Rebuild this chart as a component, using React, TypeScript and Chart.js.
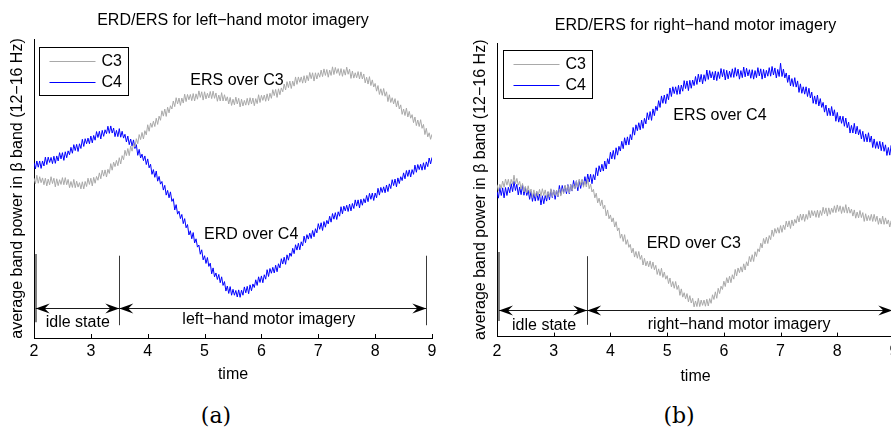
import React, { useEffect, useRef } from "react";
import { Chart, registerables } from "chart.js";

Chart.register(...registerables);

// ---------- data ----------
const TIMES = [
  2, 2.025, 2.05, 2.075, 2.1, 2.125, 2.15, 2.175, 2.2, 2.225, 2.25, 2.275, 2.3, 2.325, 2.35, 2.375, 2.4, 2.425, 2.45, 2.475,
  2.5, 2.525, 2.55, 2.575, 2.6, 2.625, 2.65, 2.675, 2.7, 2.725, 2.75, 2.775, 2.8, 2.825, 2.85, 2.875, 2.9, 2.925, 2.95, 2.975,
  3, 3.025, 3.05, 3.075, 3.1, 3.125, 3.15, 3.175, 3.2, 3.225, 3.25, 3.275, 3.3, 3.325, 3.35, 3.375, 3.4, 3.425, 3.45, 3.475,
  3.5, 3.525, 3.55, 3.575, 3.6, 3.625, 3.65, 3.675, 3.7, 3.725, 3.75, 3.775, 3.8, 3.825, 3.85, 3.875, 3.9, 3.925, 3.95, 3.975,
  4, 4.025, 4.05, 4.075, 4.1, 4.125, 4.15, 4.175, 4.2, 4.225, 4.25, 4.275, 4.3, 4.325, 4.35, 4.375, 4.4, 4.425, 4.45, 4.475,
  4.5, 4.525, 4.55, 4.575, 4.6, 4.625, 4.65, 4.675, 4.7, 4.725, 4.75, 4.775, 4.8, 4.825, 4.85, 4.875, 4.9, 4.925, 4.95, 4.975,
  5, 5.025, 5.05, 5.075, 5.1, 5.125, 5.15, 5.175, 5.2, 5.225, 5.25, 5.275, 5.3, 5.325, 5.35, 5.375, 5.4, 5.425, 5.45, 5.475,
  5.5, 5.525, 5.55, 5.575, 5.6, 5.625, 5.65, 5.675, 5.7, 5.725, 5.75, 5.775, 5.8, 5.825, 5.85, 5.875, 5.9, 5.925, 5.95, 5.975,
  6, 6.025, 6.05, 6.075, 6.1, 6.125, 6.15, 6.175, 6.2, 6.225, 6.25, 6.275, 6.3, 6.325, 6.35, 6.375, 6.4, 6.425, 6.45, 6.475,
  6.5, 6.525, 6.55, 6.575, 6.6, 6.625, 6.65, 6.675, 6.7, 6.725, 6.75, 6.775, 6.8, 6.825, 6.85, 6.875, 6.9, 6.925, 6.95, 6.975,
  7, 7.025, 7.05, 7.075, 7.1, 7.125, 7.15, 7.175, 7.2, 7.225, 7.25, 7.275, 7.3, 7.325, 7.35, 7.375, 7.4, 7.425, 7.45, 7.475,
  7.5, 7.525, 7.55, 7.575, 7.6, 7.625, 7.65, 7.675, 7.7, 7.725, 7.75, 7.775, 7.8, 7.825, 7.85, 7.875, 7.9, 7.925, 7.95, 7.975,
  8, 8.025, 8.05, 8.075, 8.1, 8.125, 8.15, 8.175, 8.2, 8.225, 8.25, 8.275, 8.3, 8.325, 8.35, 8.375, 8.4, 8.425, 8.45, 8.475,
  8.5, 8.525, 8.55, 8.575, 8.6, 8.625, 8.65, 8.675, 8.7, 8.725, 8.75, 8.775, 8.8, 8.825, 8.85, 8.875, 8.9, 8.925, 8.95, 8.975,
  9,
];

const LEFT_C3 = [
  53.8, 51.9, 54.8, 52.1, 54.3, 52.3, 53.9, 51.6, 53.8, 51.2, 53.5, 51.6, 54.3, 52.0, 53.8, 50.9, 53.6, 51.3, 53.3, 51.7,
  54.0, 51.6, 54.0, 51.6, 53.4, 50.6, 52.7, 50.7, 53.4, 50.6, 52.8, 50.8, 52.3, 50.2, 52.6, 50.2, 52.7, 51.0, 53.8, 51.7,
  53.8, 51.2, 54.1, 52.1, 54.4, 53.1, 55.6, 53.6, 56.5, 54.5, 56.6, 54.2, 56.8, 55.4, 58.7, 56.5, 59.2, 57.7, 59.8, 58.0,
  60.7, 58.6, 61.4, 60.0, 63.2, 61.4, 63.8, 61.4, 64.6, 62.9, 65.4, 64.3, 67.1, 65.4, 68.5, 66.8, 69.2, 67.0, 69.8, 68.4,
  71.8, 69.6, 72.4, 70.9, 73.0, 71.2, 74.0, 71.9, 74.7, 73.3, 76.5, 74.7, 77.1, 74.6, 77.7, 75.8, 78.2, 77.1, 79.8, 77.9,
  80.9, 78.8, 80.8, 78.3, 80.8, 79.1, 82.1, 79.6, 82.0, 80.2, 82.0, 79.9, 82.3, 79.8, 82.2, 80.4, 83.2, 81.0, 82.9, 80.1,
  82.9, 80.5, 82.4, 80.8, 83.0, 80.6, 83.1, 80.7, 82.5, 79.7, 81.8, 79.8, 82.6, 79.8, 81.9, 79.8, 81.2, 78.8, 81.0, 78.3,
  80.4, 78.5, 81.1, 78.8, 80.7, 77.8, 80.4, 78.1, 80.0, 78.4, 80.7, 78.4, 80.9, 78.8, 80.8, 78.2, 80.6, 78.9, 81.9, 79.3,
  81.7, 80.0, 81.8, 79.7, 82.2, 79.9, 82.4, 80.7, 83.6, 81.6, 83.7, 81.0, 83.9, 81.9, 84.2, 82.9, 85.5, 83.5, 86.3, 84.3,
  86.5, 84.0, 86.5, 84.8, 87.9, 85.4, 87.9, 86.1, 87.9, 85.8, 88.3, 85.9, 88.4, 86.6, 89.4, 87.3, 89.3, 86.5, 89.3, 87.2,
  89.3, 87.8, 90.2, 88.0, 90.6, 88.4, 90.4, 87.8, 90.2, 88.4, 91.3, 88.7, 91.1, 89.1, 90.7, 88.4, 90.7, 88.1, 90.4, 88.5,
  91.2, 88.8, 90.5, 87.4, 89.9, 87.5, 89.3, 87.6, 89.7, 87.2, 89.6, 87.2, 88.9, 85.9, 87.8, 85.5, 88.0, 85.0, 86.9, 84.5,
  85.7, 83.1, 85.0, 82.0, 83.9, 81.7, 84.0, 81.4, 82.9, 79.6, 81.9, 79.3, 80.9, 78.8, 80.6, 77.8, 79.9, 77.1, 78.5, 75.3,
  77.1, 74.9, 77.4, 74.4, 76.3, 74.0, 75.2, 72.5, 74.4, 71.5, 73.4, 71.2, 73.5, 70.6, 71.9, 68.5, 70.6, 67.7, 69.1, 66.9,
  68.6,
];

const LEFT_C4 = [
  59.0, 56.9, 59.6, 57.5, 59.6, 57.1, 59.6, 57.9, 60.9, 58.4, 60.9, 59.1, 60.8, 58.7, 61.2, 58.8, 61.3, 59.6, 62.4, 60.3,
  62.4, 59.8, 62.7, 60.7, 63.0, 61.7, 64.2, 62.2, 65.1, 63.1, 65.2, 62.8, 65.4, 63.8, 66.9, 64.5, 67.1, 65.4, 67.3, 65.4,
  68.0, 65.7, 68.2, 66.6, 69.5, 67.5, 69.6, 67.0, 69.9, 67.9, 70.1, 68.8, 71.3, 68.9, 71.4, 69.0, 70.7, 67.8, 69.9, 67.8,
  70.5, 67.6, 69.6, 67.3, 68.6, 66.0, 68.0, 65.1, 67.0, 64.6, 66.7, 63.8, 65.1, 61.5, 63.5, 60.6, 61.9, 59.7, 61.3, 58.4,
  60.3, 57.3, 58.5, 55.1, 56.7, 54.1, 56.2, 52.8, 54.4, 51.8, 52.7, 49.8, 51.4, 48.1, 49.7, 47.2, 49.2, 46.0, 46.9, 43.1,
  44.9, 41.7, 42.7, 40.2, 41.6, 38.5, 40.2, 37.1, 38.2, 34.7, 36.1, 33.4, 35.5, 32.0, 33.4, 30.6, 31.3, 28.2, 29.7, 26.3,
  27.7, 25.1, 27.1, 24.1, 25.2, 21.6, 23.6, 20.6, 21.9, 19.7, 21.4, 18.6, 20.6, 17.7, 19.0, 15.8, 17.5, 15.0, 17.3, 14.4,
  16.4, 14.4, 16.0, 13.8, 16.2, 13.7, 16.1, 14.4, 17.2, 15.2, 17.4, 14.9, 17.9, 15.9, 18.2, 17.0, 19.6, 17.7, 20.6, 18.7,
  20.9, 18.6, 21.3, 19.8, 23.0, 20.7, 23.4, 21.8, 23.8, 21.9, 24.5, 22.3, 25.0, 23.6, 26.7, 24.9, 27.2, 24.8, 28.0, 26.2,
  28.6, 27.5, 30.2, 28.4, 31.4, 29.6, 31.9, 29.7, 32.4, 31.0, 34.3, 32.1, 34.8, 33.3, 35.3, 33.5, 36.2, 34.1, 36.8, 35.4,
  38.5, 36.6, 38.8, 36.2, 39.2, 37.3, 39.6, 38.4, 41.0, 39.0, 41.9, 40.0, 42.2, 39.9, 42.5, 41.0, 44.2, 41.8, 44.4, 42.8,
  44.7, 42.6, 45.1, 42.8, 45.3, 43.6, 46.5, 44.4, 46.5, 43.8, 46.7, 44.7, 46.9, 45.5, 48.0, 45.9, 48.7, 46.7, 48.8, 46.3,
  48.8, 47.2, 50.4, 48.1, 50.7, 49.0, 50.9, 48.9, 51.5, 49.3, 51.9, 50.3, 53.3, 51.3, 53.5, 50.9, 53.9, 52.0, 54.3, 53.0,
  55.6, 53.6, 56.4, 54.4, 56.6, 54.2, 56.7, 55.1, 58.2, 55.8, 58.4, 56.7, 58.5, 56.5, 59.0, 56.7, 59.3, 57.7, 60.6, 58.6,
  60.8,
];

const RIGHT_C3 = [
  51.6, 49.5, 51.7, 50.3, 52.8, 50.7, 53.5, 51.4, 53.4, 50.9, 53.4, 51.7, 54.8, 51.8, 53.7, 51.4, 52.7, 50.1, 52.0, 49.1,
  51.0, 48.8, 51.2, 48.6, 50.1, 47.2, 49.8, 47.5, 49.4, 47.8, 50.0, 47.7, 50.2, 47.9, 49.8, 47.1, 49.3, 47.4, 50.2, 47.5,
  49.7, 47.9, 49.7, 47.6, 50.1, 47.7, 50.2, 48.5, 51.4, 49.3, 51.4, 48.7, 51.6, 49.5, 51.7, 50.3, 52.8, 50.7, 53.5, 51.4,
  53.5, 50.7, 52.8, 50.8, 53.5, 50.2, 51.8, 49.1, 50.0, 47.1, 48.7, 45.4, 47.0, 44.4, 46.4, 43.4, 44.6, 41.0, 43.0, 40.0,
  41.3, 38.9, 40.3, 37.2, 39.0, 35.9, 36.9, 33.4, 34.8, 32.3, 34.6, 31.3, 32.9, 30.3, 31.3, 28.4, 30.0, 27.0, 28.9, 26.6,
  28.9, 26.2, 27.6, 24.3, 26.6, 24.0, 25.6, 23.7, 25.7, 23.1, 25.3, 22.7, 24.2, 21.1, 23.0, 20.7, 23.2, 20.1, 21.9, 19.5,
  20.7, 18.0, 19.9, 16.9, 18.7, 16.4, 18.7, 16.0, 17.4, 14.0, 16.2, 13.4, 14.9, 12.8, 14.6, 11.8, 13.9, 11.4, 13.0, 10.1,
  12.1, 10.2, 13.0, 10.2, 12.4, 10.6, 12.4, 10.3, 12.7, 10.4, 12.9, 11.3, 14.2, 12.6, 15.2, 13.0, 16.4, 14.6, 17.1, 16.0,
  18.8, 17.0, 20.0, 18.2, 20.5, 18.3, 21.0, 19.5, 22.8, 20.6, 23.3, 21.7, 23.7, 21.9, 24.7, 22.6, 25.4, 24.0, 27.2, 25.4,
  27.8, 25.5, 28.8, 27.2, 29.8, 28.8, 31.7, 30.1, 33.3, 31.5, 33.8, 31.6, 34.3, 32.9, 36.2, 34.0, 36.7, 35.1, 37.0, 35.1,
  37.7, 35.4, 37.9, 36.3, 39.2, 37.2, 39.3, 36.7, 39.6, 37.6, 39.8, 38.5, 41.0, 38.9, 41.6, 39.5, 41.6, 39.1, 41.5, 39.8,
  42.8, 40.3, 42.8, 41.0, 42.7, 40.5, 42.9, 40.4, 42.8, 41.1, 43.9, 41.7, 43.7, 40.9, 43.7, 41.5, 43.6, 42.1, 44.4, 42.1,
  44.7, 42.5, 44.4, 41.8, 44.1, 42.1, 44.8, 41.9, 44.0, 41.9, 43.3, 40.9, 43.0, 40.2, 42.3, 40.3, 42.8, 40.4, 42.1, 39.1,
  41.7, 39.3, 41.1, 39.4, 41.5, 39.1, 41.5, 39.1, 40.9, 38.1, 40.2, 38.2, 40.9, 38.1, 40.3, 38.2, 39.6, 37.2, 39.3, 36.6,
  38.7,
];

const RIGHT_C4 = [
  49.2, 47.0, 50.6, 47.9, 50.5, 47.1, 50.6, 47.9, 50.7, 48.8, 51.9, 49.2, 52.7, 49.6, 51.7, 48.1, 50.8, 48.2, 51.5, 48.0,
  50.7, 47.9, 49.7, 46.6, 49.3, 45.9, 48.6, 46.0, 49.2, 46.2, 48.4, 44.7, 47.8, 45.1, 47.9, 46.0, 49.1, 46.4, 49.9, 47.2,
  49.8, 46.6, 49.7, 47.5, 51.3, 48.2, 51.3, 48.9, 51.2, 48.5, 51.6, 48.5, 51.6, 49.4, 53.0, 50.3, 52.9, 49.5, 53.0, 50.3,
  53.1, 51.2, 54.3, 51.7, 55.2, 52.5, 55.1, 51.9, 55.0, 53.2, 57.3, 54.6, 58.0, 55.9, 58.5, 56.2, 59.6, 56.9, 60.4, 58.6,
  62.6, 60.3, 63.2, 60.2, 64.1, 61.6, 64.6, 63.0, 66.3, 63.8, 67.5, 65.0, 67.8, 65.1, 68.6, 66.8, 71.0, 68.4, 71.9, 69.9,
  72.6, 70.2, 73.5, 70.7, 74.1, 72.2, 76.0, 73.6, 76.4, 73.4, 77.3, 75.0, 78.2, 76.7, 80.1, 77.8, 81.7, 79.2, 82.0, 79.1,
  82.4, 80.4, 84.4, 81.5, 84.8, 82.5, 84.8, 82.2, 85.3, 82.3, 85.4, 83.3, 86.9, 84.2, 86.8, 83.5, 87.0, 84.3, 87.1, 85.2,
  88.3, 85.6, 89.1, 86.4, 89.0, 85.8, 88.9, 86.7, 90.5, 87.3, 90.3, 87.8, 89.9, 87.1, 90.1, 86.9, 89.9, 87.6, 91.0, 88.2,
  90.7, 87.1, 90.4, 87.5, 90.1, 88.0, 90.9, 88.0, 91.3, 88.4, 90.8, 87.4, 90.3, 87.9, 91.5, 88.2, 91.1, 88.5, 90.6, 87.7,
  90.6, 87.4, 90.3, 87.9, 91.3, 88.5, 90.9, 87.4, 90.7, 87.8, 90.4, 88.4, 91.3, 88.4, 91.7, 88.8, 91.2, 87.8, 90.7, 88.3,
  92.8, 88.3, 90.8, 87.8, 89.5, 86.3, 88.8, 85.1, 87.6, 84.9, 87.9, 84.7, 86.8, 82.9, 85.8, 82.6, 84.8, 82.3, 84.8, 81.5,
  84.3, 81.0, 83.0, 79.2, 81.7, 78.9, 82.0, 78.3, 80.8, 77.8, 79.5, 76.2, 78.6, 75.0, 77.6, 75.0, 78.1, 74.9, 77.0, 73.1,
  76.1, 72.8, 74.9, 72.4, 74.8, 71.4, 74.2, 70.9, 72.8, 69.1, 71.7, 69.1, 72.4, 68.8, 71.4, 68.5, 70.3, 67.1, 69.7, 66.2,
  68.8, 66.1, 69.2, 66.0, 68.1, 64.2, 67.1, 63.9, 66.2, 63.8, 66.3, 63.1, 66.0, 62.9, 65.1, 61.5, 64.2, 61.6, 64.9, 61.4,
  64.1,
];

const X_TICKS = [2, 3, 4, 5, 6, 7, 8, 9];
const SERIES_NAMES = ["C3", "C4"];
const TITLE_LEFT = "ERD/ERS for left\u2212hand motor imagery";
const TITLE_RIGHT = "ERD/ERS for right\u2212hand motor imagery";
const X_TITLE = "time";
const Y_TITLE = "average band power in \u03b2 band (12\u221216 Hz)";

// annotations (data coordinates)
const LEFT_NOTES = [
  { text: "ERS over C3", t: 5.57, v: 86.7 },
  { text: "ERD over C4", t: 5.82, v: 34.7 },
  { text: "idle state", t: 2.77, v: 5.3 },
  { text: "left\u2212hand motor imagery", t: 6.13, v: 6.3 },
];
const RIGHT_NOTES = [
  { text: "ERS over C4", t: 5.93, v: 75 },
  { text: "ERD over C3", t: 5.47, v: 31.7 },
  { text: "idle state", t: 2.83, v: 3.7 },
  { text: "right\u2212hand motor imagery", t: 6.27, v: 4 },
];
const LEFT_MARKERS = [
  { t: 2.03, from: 5.3, to: 28.3, thick: true },
  { t: 3.5, from: 4.3, to: 27.7, thick: false },
  { t: 8.9, from: 4.3, to: 27.7, thick: false },
];
const RIGHT_MARKERS = [
  { t: 2.035, from: 5.3, to: 28.7, thick: true },
  { t: 3.59, from: 4, to: 27.3, thick: false },
];
const LEFT_ARROWS = [
  { from: 2.03, to: 3.5, v: 10 },
  { from: 3.5, to: 8.9, v: 10 },
];
const RIGHT_ARROWS = [
  { from: 2.035, to: 3.59, v: 9 },
  { from: 3.59, to: 8.97, v: 9 },
];

// ---------- styles ----------
const FONT_FAMILY = '"Liberation Sans", Arial, Helvetica, sans-serif';
const GRAY = "#a9a9a9";
const BLUE = "#0000ff";

type PanelCfg = {
  title: string;
  c3: number[];
  c4: number[];
  yMax: number;
  padLeft: number;
  padRight: number;
  padBottom: number;
  titlePadTop: number;
  titlePadBottom: number;
  tickPad: number;
  notes: { text: string; t: number; v: number }[];
  markers: { t: number; from: number; to: number; thick: boolean }[];
  arrows: { from: number; to: number; v: number }[];
  legendDx: number;
  legendDy: number;
};

function drawArrowHead(ctx: CanvasRenderingContext2D, tipX: number, y: number, dir: number) {
  const len = 14;
  const half = 5;
  const notch = 9;
  ctx.beginPath();
  ctx.moveTo(tipX, y);
  ctx.lineTo(tipX - dir * len, y - half);
  ctx.lineTo(tipX - dir * notch, y);
  ctx.lineTo(tipX - dir * len, y + half);
  ctx.closePath();
  ctx.fill();
}

function makeOverlay(cfg: PanelCfg) {
  return {
    id: "overlay",
    afterDraw(chart: any) {
      const ctx: CanvasRenderingContext2D = chart.ctx;
      const xs = chart.scales.x;
      const ys = chart.scales.y;
      const area = chart.chartArea;
      ctx.save();
      // inward ticks
      ctx.strokeStyle = "#000";
      ctx.lineWidth = 1;
      X_TICKS.forEach((t) => {
        const px = Math.round(xs.getPixelForValue(t)) + 0.5;
        ctx.beginPath();
        ctx.moveTo(px, area.bottom);
        ctx.lineTo(px, area.bottom - 4);
        ctx.stroke();
      });
      // vertical markers
      cfg.markers.forEach((m) => {
        const px = xs.getPixelForValue(m.t);
        ctx.strokeStyle = m.thick ? "#808080" : "#3a3a3a";
        ctx.lineWidth = m.thick ? 2 : 1;
        const x = m.thick ? Math.round(px) : Math.round(px) + 0.5;
        ctx.beginPath();
        ctx.moveTo(x, ys.getPixelForValue(m.from));
        ctx.lineTo(x, ys.getPixelForValue(m.to));
        ctx.stroke();
      });
      // arrows
      ctx.fillStyle = "#000";
      ctx.strokeStyle = "#1a1a1a";
      ctx.lineWidth = 1.2;
      cfg.arrows.forEach((a) => {
        const x1 = xs.getPixelForValue(a.from);
        const x2 = xs.getPixelForValue(a.to);
        const y = Math.round(ys.getPixelForValue(a.v)) + 0.5;
        ctx.beginPath();
        ctx.moveTo(x1, y);
        ctx.lineTo(x2, y);
        ctx.stroke();
        drawArrowHead(ctx, x1, y, -1);
        drawArrowHead(ctx, x2, y, 1);
      });
      // notes
      ctx.fillStyle = "#000";
      ctx.font = `16px ${FONT_FAMILY}`;
      ctx.textAlign = "center";
      ctx.textBaseline = "middle";
      cfg.notes.forEach((n) => {
        ctx.fillText(n.text, xs.getPixelForValue(n.t), ys.getPixelForValue(n.v));
      });
      // legend
      const bx = Math.round(area.left + cfg.legendDx) + 0.5;
      const by = Math.round(area.top + cfg.legendDy) + 0.5;
      const bw = 89;
      const bh = 48;
      ctx.fillStyle = "#fff";
      ctx.fillRect(bx, by, bw, bh);
      ctx.strokeStyle = "#000";
      ctx.lineWidth = 1;
      ctx.strokeRect(bx, by, bw, bh);
      const colors = [GRAY, BLUE];
      SERIES_NAMES.forEach((name, i) => {
        const ly = Math.round(by + 13.5 + i * 20.5) + 0.5;
        ctx.strokeStyle = colors[i];
        ctx.lineWidth = 1;
        ctx.beginPath();
        ctx.moveTo(bx + 10, ly);
        ctx.lineTo(bx + 56, ly);
        ctx.stroke();
        ctx.fillStyle = "#000";
        ctx.textAlign = "left";
        ctx.textBaseline = "middle";
        ctx.fillText(name, bx + 62, ly + 0.5);
      });
      ctx.restore();
    },
  };
}

function buildChart(canvas: HTMLCanvasElement, cfg: PanelCfg) {
  const font = { family: FONT_FAMILY, size: 16, weight: "normal" as const, lineHeight: 1.2 };
  return new Chart(canvas, {
    type: "line",
    data: {
      labels: TIMES,
      datasets: [
        {
          label: SERIES_NAMES[0],
          data: cfg.c3,
          borderColor: GRAY,
          backgroundColor: GRAY,
          borderWidth: 1,
          pointRadius: 0,
          tension: 0,
        },
        {
          label: SERIES_NAMES[1],
          data: cfg.c4,
          borderColor: BLUE,
          backgroundColor: BLUE,
          borderWidth: 1,
          pointRadius: 0,
          tension: 0,
        },
      ],
    },
    options: {
      responsive: false,
      maintainAspectRatio: false,
      animation: false,
      devicePixelRatio: 1,
      events: [],
      layout: { padding: { left: cfg.padLeft, right: cfg.padRight, top: 0, bottom: cfg.padBottom } },
      plugins: {
        legend: { display: false },
        tooltip: { enabled: false },
        title: {
          display: true,
          text: cfg.title,
          fullSize: false,
          color: "#000",
          font,
          padding: { top: cfg.titlePadTop, bottom: cfg.titlePadBottom },
        },
      },
      scales: {
        x: {
          type: "linear",
          min: 2,
          max: 9,
          grid: { display: false, drawTicks: false },
          border: { display: true, color: "#000", width: 1 },
          afterBuildTicks: (scale: any) => {
            scale.ticks = X_TICKS.map((v) => ({ value: v }));
          },
          ticks: {
            color: "#000",
            font,
            padding: cfg.tickPad,
            maxRotation: 0,
            autoSkip: false,
            callback: (v: any) => String(v),
          },
          title: {
            display: true,
            text: X_TITLE,
            color: "#000",
            font,
            padding: { top: 0, bottom: 0 },
          },
        },
        y: {
          type: "linear",
          min: 0,
          max: cfg.yMax,
          grid: { display: false, drawTicks: false },
          border: { display: true, color: "#000", width: 1 },
          ticks: { display: false },
          title: {
            display: true,
            text: Y_TITLE,
            color: "#000",
            font,
            padding: { top: 8.4, bottom: 6.4 },
          },
        },
      },
    } as any,
    plugins: [makeOverlay(cfg)],
  });
}

const LEFT_CFG: PanelCfg = {
  title: TITLE_LEFT,
  c3: LEFT_C3,
  c4: LEFT_C4,
  yMax: 100.67,
  padLeft: 0,
  padRight: 13,
  padBottom: 15.6,
  titlePadTop: 11.4,
  titlePadBottom: 8.4,
  tickPad: 4,
  notes: LEFT_NOTES,
  markers: LEFT_MARKERS,
  arrows: LEFT_ARROWS,
  legendDx: 5,
  legendDy: 7.5,
};

const RIGHT_CFG: PanelCfg = {
  title: TITLE_RIGHT,
  c3: RIGHT_C3,
  c4: RIGHT_C4,
  yMax: 99.67,
  padLeft: 19,
  padRight: 12,
  padBottom: 14.2,
  titlePadTop: 16.4,
  titlePadBottom: 7.4,
  tickPad: 5.4,
  notes: RIGHT_NOTES,
  markers: RIGHT_MARKERS,
  arrows: RIGHT_ARROWS,
  legendDx: 6,
  legendDy: 7,
};

export default function App() {
  const leftRef = useRef<HTMLCanvasElement | null>(null);
  const rightRef = useRef<HTMLCanvasElement | null>(null);

  useEffect(() => {
    const a = leftRef.current ? buildChart(leftRef.current, LEFT_CFG) : null;
    const b = rightRef.current ? buildChart(rightRef.current, RIGHT_CFG) : null;
    return () => {
      a && a.destroy();
      b && b.destroy();
    };
  }, []);

  const capStyle: React.CSSProperties = {
    position: "absolute",
    top: 403,
    width: 100,
    textAlign: "center",
    fontFamily: '"DejaVu Serif", "Liberation Serif", serif',
    fontSize: 22,
    lineHeight: "26px",
    color: "#000",
  };

  return (
    <div
      style={{
        position: "absolute",
        left: 0,
        top: 0,
        width: 891,
        height: 430,
        overflow: "hidden",
        background: "#fff",
      }}
    >
      <canvas ref={leftRef} width={445} height={400} style={{ position: "absolute", left: 0, top: 0 }} />
      <canvas ref={rightRef} width={462} height={400} style={{ position: "absolute", left: 444, top: 0 }} />
      <div style={{ ...capStyle, left: 166 }}>(a)</div>
      <div style={{ ...capStyle, left: 629 }}>(b)</div>
    </div>
  );
}
